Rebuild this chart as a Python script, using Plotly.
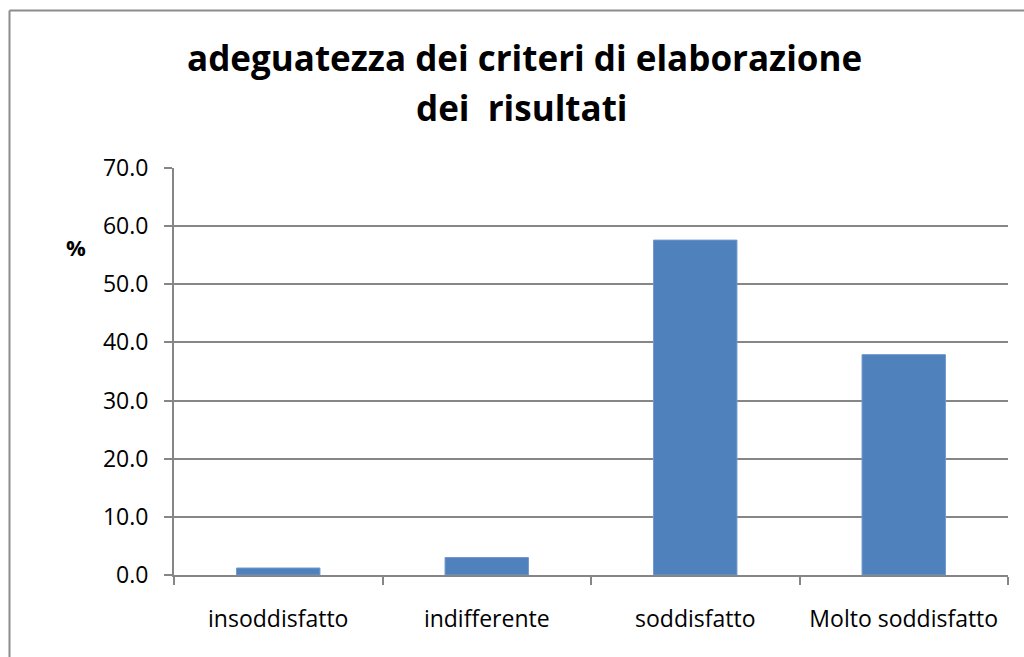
import plotly.graph_objects as go

categories = ["insoddisfatto", "indifferente", "soddisfatto", "Molto soddisfatto"]
values = [1.2, 3.0, 57.6, 37.9]
y_ticks = [0, 10, 20, 30, 40, 50, 60, 70]
y_tick_labels = ["0.0", "10.0", "20.0", "30.0", "40.0", "50.0", "60.0", "70.0"]
title_line1 = "adeguatezza dei criteri di elaborazione"
title_line2 = "dei  risultati"
y_label = "%"

W, H = 1024, 657
L, R, T, B = 174, 16, 168, 82
pw, ph = W - L - R, H - T - B

def px_x(p):
    return (p - L) / pw

def px_y(p):
    return (H - B - p) / ph

FONT = "Open Sans"
AX = "#868686"

fig = go.Figure(go.Bar(
    x=categories, y=values,
    marker=dict(color="#4f81bd", line=dict(color="#6f98cc", width=1)),
    width=0.4,
))

fig.update_layout(
    width=W, height=H,
    margin=dict(l=L, r=R, t=T, b=B),
    paper_bgcolor="white", plot_bgcolor="white",
    showlegend=False,
    font=dict(family=FONT, color="black", size=23),
    xaxis=dict(
        showline=True, linecolor=AX, linewidth=2,
        ticks="outside", tickson="boundaries", ticklen=8, tickcolor=AX, tickwidth=2,
        ticklabelstandoff=22,
        tickfont=dict(family=FONT, size=23, color="black"),
        showgrid=False,
    ),
    yaxis=dict(
        range=[0, 70], tickvals=y_ticks, ticktext=y_tick_labels,
        showline=True, linecolor=AX, linewidth=2,
        ticks="outside", ticklen=8, tickcolor=AX, tickwidth=2,
        ticklabelstandoff=11,
        tickfont=dict(family=FONT, size=23, color="black"),
        showgrid=True, gridcolor=AX, gridwidth=1.5,
        zeroline=False,
    ),
    annotations=[
        dict(text="<b>" + title_line1 + "</b>", xref="paper", yref="paper",
             x=px_x(524), y=px_y(57), xanchor="center", yanchor="middle",
             showarrow=False, font=dict(family=FONT, size=35, color="black")),
        dict(text="<b>" + title_line2 + "</b>", xref="paper", yref="paper",
             x=px_x(522), y=px_y(108), xanchor="center", yanchor="middle",
             showarrow=False, font=dict(family=FONT, size=35, color="black")),
        dict(text="<b>" + y_label + "</b>", xref="paper", yref="paper",
             x=px_x(76), y=px_y(247), xanchor="center", yanchor="middle",
             showarrow=False, font=dict(family=FONT, size=22, color="black")),
    ],
    shapes=[
        dict(type="line", xref="paper", yref="paper",
             x0=px_x(9.5), x1=px_x(9.5), y0=px_y(10.5), y1=px_y(H + 5),
             line=dict(color="#8c8c8c", width=2)),
        dict(type="line", xref="paper", yref="paper",
             x0=px_x(9.5), x1=px_x(W + 5), y0=px_y(10.5), y1=px_y(10.5),
             line=dict(color="#8c8c8c", width=2)),
    ],
)

fig.write_html(
    "out.html",
    config={"displayModeBar": False},
    post_script="document.body.style.margin='0';document.body.style.overflow='hidden';",
)
